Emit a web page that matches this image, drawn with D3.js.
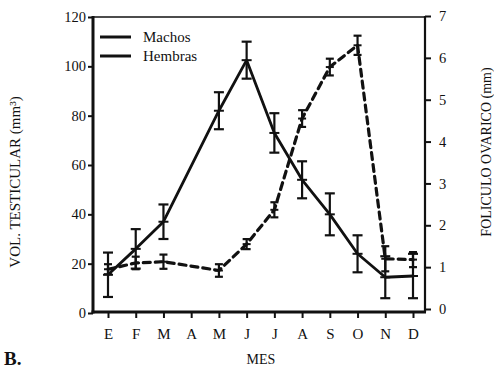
<!DOCTYPE html>
<html><head><meta charset="utf-8">
<script src="https://cdn.jsdelivr.net/npm/d3@7"></script>
<style>body{margin:0;background:#fff}svg{display:block}svg text{font-family:"Liberation Serif","Times New Roman","DejaVu Serif",serif}</style>
</head><body>
<script>
const months = ["E","F","M","A","M","J","J","A","S","O","N","D"];
const machos = [15.5, 26, 37, null, 82, 102.5, 73, 54, 40, 24, 14.5, 15];
const machosErr = [9, 8, 7, null, 7.5, 7.5, 8, 7.5, 8.5, 7.5, 8.5, 9];
const hembras = [0.95, 1.1, 1.13, null, 0.92, 1.55, 2.37, 4.55, 5.78, 6.3, 1.2, 1.18];
const hembrasErr = [0.12, 0.15, 0.17, null, 0.15, 0.12, 0.18, 0.2, 0.2, 0.23, 0.3, 0.18];
const leftTicks = [0,20,40,60,80,100,120];
const rightTicks = [0,1,2,3,4,5,6,7];
const legendLabels = ["Machos","Hembras"];

const W=494,H=383;
const L=93,R=425,T=17,B=312;
const font='"Liberation Serif","Times New Roman","DejaVu Serif",serif';
const svg=d3.select("body").append("svg").attr("width",W).attr("height",H)
  .style("font-family",font);

const x=d3.scalePoint().domain(d3.range(months.length)).range([108,413]);
const yL=d3.scaleLinear().domain([0,120]).range([313,17]);
const yR=d3.scaleLinear().domain([0,7]).range([309,16]);

// axes
const gl=svg.append("g").attr("transform",`translate(${L},0)`)
  .call(d3.axisLeft(yL).tickValues(leftTicks).tickFormat(d3.format("d")).tickSize(5).tickPadding(2));
const gr=svg.append("g").attr("transform",`translate(${R},0)`)
  .call(d3.axisRight(yR).tickValues(rightTicks).tickFormat(d3.format("d")).tickSize(6).tickPadding(8));
const gb=svg.append("g").attr("transform",`translate(0,${B})`)
  .call(d3.axisBottom(x).tickFormat(i=>months[i]).tickSize(6).tickPadding(10));
[gl,gr,gb].forEach(g=>{
  g.attr("font-family",null);
  g.select(".domain").remove();
  g.selectAll(".tick line").attr("stroke","#111").attr("stroke-width",2);
  g.selectAll("text").attr("fill","#111");
});
gl.selectAll("text").style("font-size","14.5px");
gr.selectAll("text").style("font-size","14.5px");
gb.selectAll("text").style("font-size","15px");

// frame
svg.append("line").attr("x1",L).attr("x2",R).attr("y1",T).attr("y2",T).attr("stroke","#111").attr("stroke-width",1.6);
svg.append("line").attr("x1",R).attr("x2",R).attr("y1",T-1).attr("y2",B).attr("stroke","#111").attr("stroke-width",2.2);
svg.append("line").attr("x1",L).attr("x2",L).attr("y1",T-1).attr("y2",B+1.5).attr("stroke","#111").attr("stroke-width",3);
svg.append("line").attr("x1",L-1.5).attr("x2",R+1).attr("y1",B).attr("y2",B).attr("stroke","#111").attr("stroke-width",3);

// series
function series(vals, errs, yS, dashed, cap){
  const pts=vals.map((v,i)=>({i,v,e:errs[i]})).filter(d=>d.v!=null);
  const line=d3.line().x(d=>x(d.i)).y(d=>yS(d.v));
  svg.append("path").datum(pts).attr("d",line).attr("fill","none")
    .attr("stroke","#111").attr("stroke-width",dashed?3.2:2.8)
    .attr("stroke-linejoin","round")
    .attr("stroke-dasharray",dashed?"7,5":null).attr("stroke-linecap",dashed?"round":"butt");
  const g=svg.append("g").attr("stroke","#111");
  pts.forEach(d=>{
    const cx=x(d.i), y1=yS(d.v+d.e), y2=yS(d.v-d.e), ym=yS(d.v);
    g.append("line").attr("x1",cx).attr("x2",cx).attr("y1",y1).attr("y2",y2).attr("stroke-width",2.2);
    [y1,y2].forEach(yy=>g.append("line").attr("x1",cx-cap).attr("x2",cx+cap).attr("y1",yy).attr("y2",yy).attr("stroke-width",2.2));
    g.append("line").attr("x1",cx-cap).attr("x2",cx+cap).attr("y1",ym).attr("y2",ym).attr("stroke-width",2);
  });
}
series(machos, machosErr, yL, false, 5);
series(hembras, hembrasErr, yR, true, 4);

// legend
const leg=svg.append("g");
legendLabels.forEach((t,k)=>{
  const yy=37+k*19;
  leg.append("line").attr("x1",100).attr("x2",131).attr("y1",yy).attr("y2",yy).attr("stroke","#111").attr("stroke-width",3);
  leg.append("text").attr("x",143).attr("y",yy+5).text(t).attr("fill","#111").style("font-size","15px");
});

// titles
svg.append("text").attr("transform","translate(20,182) rotate(-90)").attr("text-anchor","middle")
  .style("font-size","15px").attr("fill","#111").text("VOL. TESTICULAR (mm³)");
svg.append("text").attr("transform","translate(491,152) rotate(-90)").attr("text-anchor","middle")
  .style("font-size","14px").attr("fill","#111").text("FOLICULO OVARICO (mm)");
svg.append("text").attr("x",261).attr("y",364).attr("text-anchor","middle")
  .style("font-size","14px").attr("fill","#111").text("MES");
svg.append("text").attr("x",4).attr("y",365)
  .style("font-size","19px").style("font-weight","bold").attr("fill","#111").text("B.");
</script>
</body></html>
